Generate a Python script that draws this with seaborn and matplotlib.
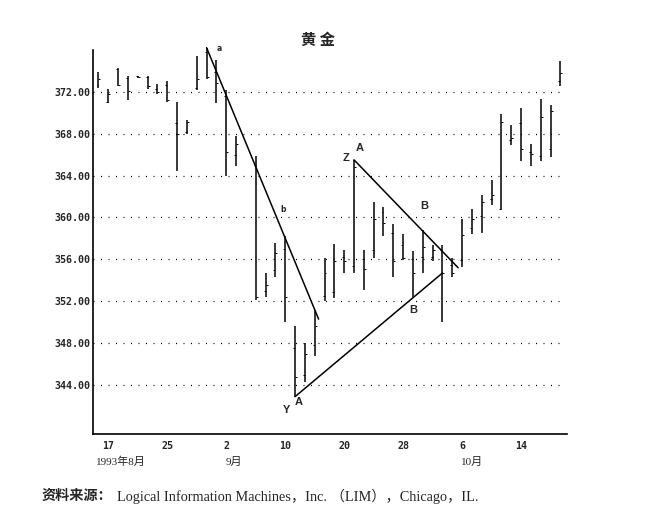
import numpy as np
import pandas as pd
import seaborn as sns
import matplotlib.pyplot as plt

# daily gold bars, Aug 16 1993 .. Oct 20 1993 (weekday index, Sep 6 holiday empty)
day = list(range(-1, 47))
high = [373.9, 372.3, 374.3, 373.5, 373.5, 373.5, 372.7, 373.0, 371.0, 369.3,
        375.4, 376.2, 375.0, 372.2, 367.8, np.nan, 365.9, 354.7, 357.6, 358.2,
        349.6, 348.0, 351.2, 356.1, 357.5, 356.9, 365.5, 356.9, 361.5, 361.0,
        359.4, 358.4, 356.8, 358.8, 357.4, 357.4, 356.1, 359.9, 360.8, 362.1,
        363.6, 369.9, 368.8, 370.4, 367.0, 371.3, 370.7, 374.9]
low = [372.4, 370.9, 372.5, 371.2, 373.3, 372.3, 371.8, 371.0, 364.4, 368.0,
       372.2, 373.2, 370.9, 364.0, 364.9, np.nan, 352.1, 352.4, 354.3, 350.0,
       342.9, 344.3, 346.8, 352.0, 352.3, 354.7, 354.7, 353.1, 356.1, 358.2,
       354.3, 355.9, 352.4, 354.7, 355.8, 350.0, 354.3, 355.3, 358.4, 358.5,
       361.2, 360.7, 366.9, 365.4, 364.9, 365.4, 365.8, 372.5]
opn = [372.6, 371.0, 374.2, 373.3, 373.5, 373.4, 372.3, 372.6, 369.0, 368.2,
       372.4, 375.8, 373.9, 371.6, 366.0, np.nan, 365.0, 353.0, 355.0, 357.0,
       347.5, 345.0, 347.8, 352.5, 352.9, 356.2, 355.4, 356.0, 356.9, 360.5,
       358.5, 357.4, 356.0, 356.2, 356.2, 356.9, 355.5, 355.9, 359.0, 360.1,
       361.8, 360.8, 367.4, 369.0, 366.2, 365.9, 366.5, 373.0]
close = [373.2, 371.8, 372.6, 372.1, 373.4, 372.5, 372.0, 371.2, 368.0, 369.1,
         373.2, 373.4, 372.8, 366.2, 367.0, np.nan, 352.4, 353.6, 356.6, 352.4,
         344.8, 347.0, 349.6, 354.7, 355.8, 355.8, 364.8, 355.1, 359.9, 359.5,
         355.8, 356.1, 354.7, 357.2, 356.9, 354.7, 354.7, 358.3, 359.9, 361.5,
         362.1, 369.1, 367.6, 366.5, 366.1, 369.6, 370.2, 373.8]

tick_pos = list(range(0, 45, 3))
tick_text = ["17", "", "25", "", "2", "", "10", "", "20", "", "28", "", "6", "", "14"]
y_ticks = [344, 348, 352, 356, 360, 364, 368, 372]

# trend lines: (day, price) end points
line_ab = ([10, 21.4], [376.2, 350.3])
line_za = ([25, 35.6], [365.5, 355.2])
line_ya = ([19, 34], [342.9, 354.7])

df = pd.DataFrame({"day": day, "high": high, "low": low, "open": opn, "close": close})

sns.set_theme(style="white")
plt.rcParams["font.family"] = ["DejaVu Sans", "Noto Sans CJK SC"]

fig = plt.figure(figsize=(6.67, 5.18), dpi=100)
ax = fig.add_axes([0.1394, 0.1622, 0.7106, 0.7413])

# bars
ax.vlines(df["day"], df["low"], df["high"], color="black", lw=1.1, clip_on=False)
ax.hlines(df["open"], df["day"] - 0.2, df["day"], color="black", lw=0.7)
ax.hlines(df["close"], df["day"], df["day"] + 0.2, color="black", lw=0.7)

for xs, ys in (line_ab, line_za, line_ya):
    ax.plot(xs, ys, color="black", lw=1.1, clip_on=False)

ax.set_xlim(-1.56, 46.67)
ax.set_ylim(339.34, 375.98)

ax.set_yticks(y_ticks)
ax.set_yticklabels([f"{v:.2f}" for v in y_ticks], family="DejaVu Sans Mono",
                   fontsize=7.2, fontweight="bold")
ax.set_xticks(tick_pos)
ax.set_xticklabels(tick_text, family="DejaVu Sans Mono", fontsize=7.2, fontweight="bold")
ax.tick_params(axis="x", direction="in", length=3, width=1, color="black", pad=5)
ax.tick_params(axis="y", length=0, pad=2)

for v in y_ticks:
    ax.axhline(v, xmax=0.99, color="black", lw=0.9, ls=(0, (0.8, 5.2)))

sns.despine(ax=ax)
for s in ("left", "bottom"):
    ax.spines[s].set_color("black")
    ax.spines[s].set_linewidth(1.2)

# annotations
sm = dict(fontsize=5.5, fontweight="bold", ha="center", va="center")
ax.text(11.26, 376.14, "a", clip_on=False, **sm)
ax.text(17.8, 360.8, "b", **sm)
big = dict(fontsize=8, fontweight="bold", ha="center", va="center", family="Liberation Sans")
ax.text(24.2, 365.64, "Z", **big)
ax.text(25.6, 366.6, "A", **big)
ax.text(32.1, 361.1, "B", **big)
ax.text(31.0, 351.17, "B", **big)
ax.text(18.1, 341.63, "Y", **big)
ax.text(19.4, 342.36, "A", **big)

# month row under the ticks
ser = ["Liberation Serif", "Noto Sans CJK SC"]
trans = ax.get_xaxis_transform()
ax.text(-1.28, -0.072, "1993年8月", transform=trans, family=ser, fontsize=8, va="center")
ax.text(11.9, -0.072, "9月", transform=trans, family=ser, fontsize=8, va="center")
ax.text(35.9, -0.072, "10月", transform=trans, family=ser, fontsize=8, va="center")

fig.text(318 / 667, 1 - 40 / 518, "黄 金", family=["Noto Sans CJK SC"], fontsize=11,
         fontweight="bold", ha="center", va="center")
fig.text(42 / 667, 1 - 496 / 518, "资料来源：", family=["Noto Sans CJK SC"], fontsize=10.2,
         fontweight="bold", va="center")
fig.text(117 / 667, 1 - 496 / 518,
         "Logical Information Machines，Inc. （LIM），Chicago，IL.",
         family=ser, fontsize=10.3, va="center")

fig.savefig("out.png", dpi=100)
